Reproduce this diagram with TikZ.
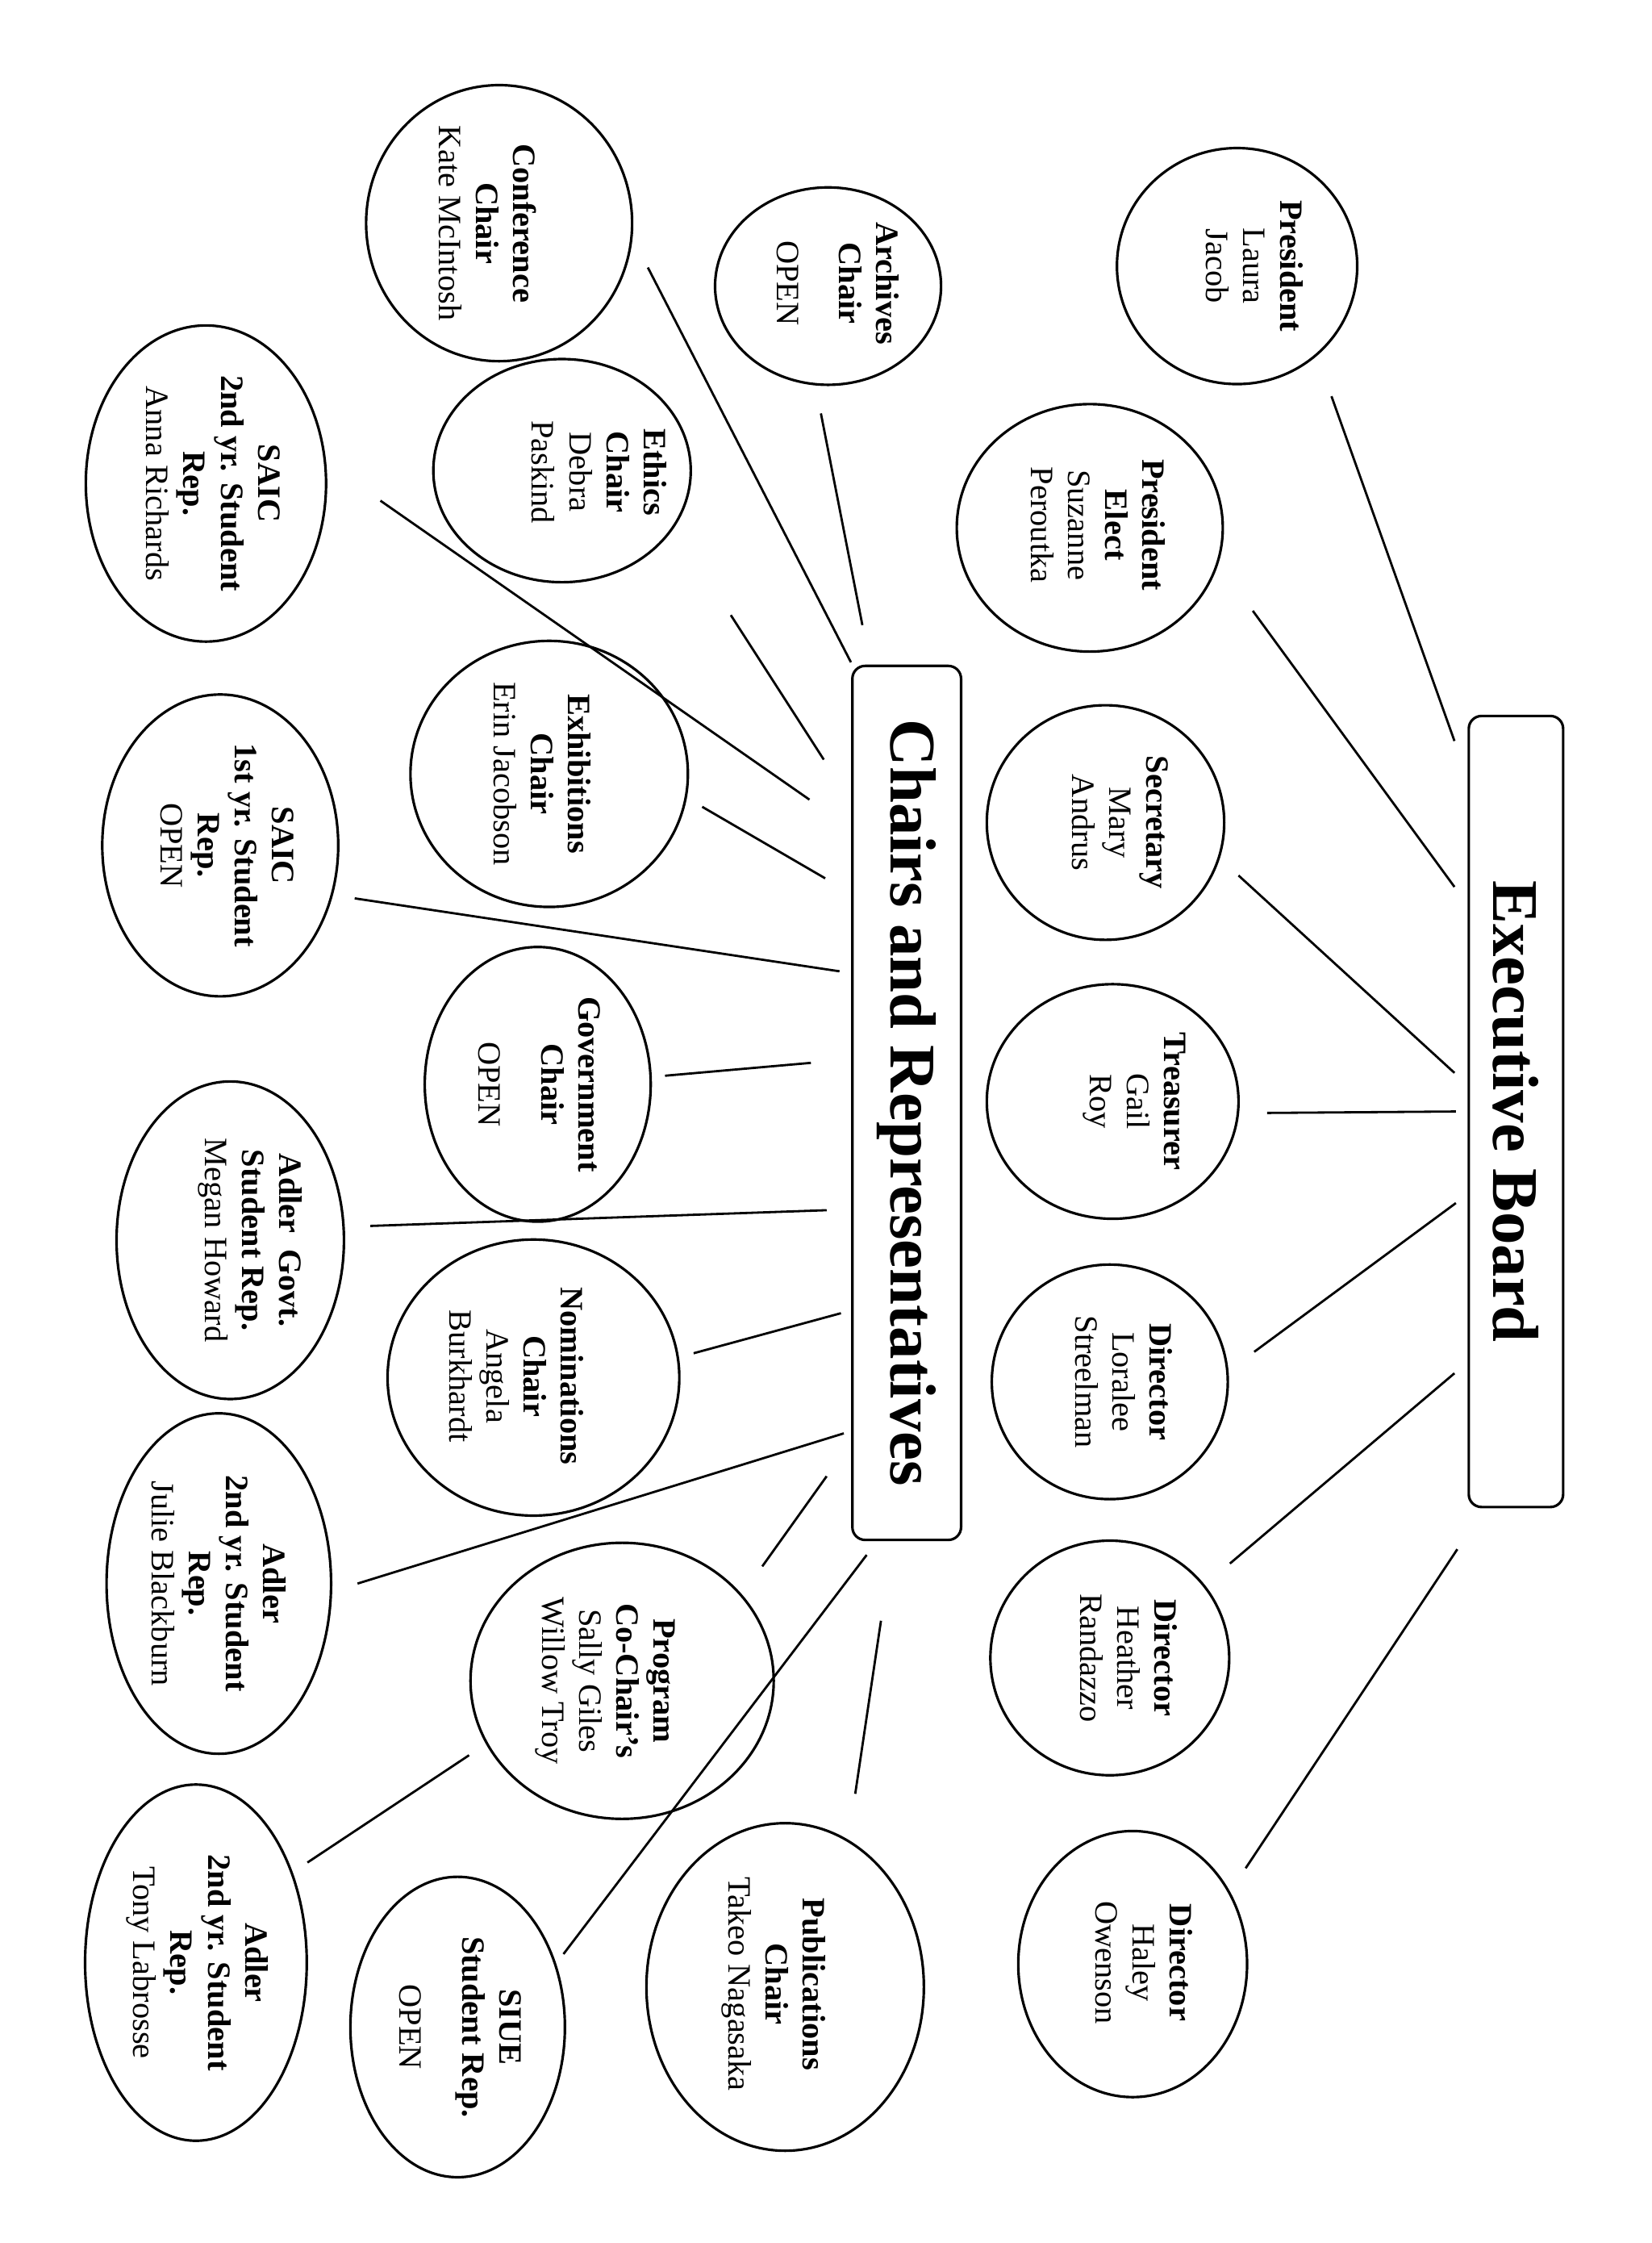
\documentclass[tikz,border=0pt]{standalone}
\usepackage{fontspec}
\setmainfont{Liberation Serif}
\usetikzlibrary{shapes.geometric}
\newcommand{\unitpx}{0.01773cm}

\begin{document}
\begin{tikzpicture}[
  x=\unitpx, y=-\unitpx,
  orb/.style 2 args={ellipse, draw, line width=0.9pt, inner sep=0pt,
    minimum width=#1*\unitpx, minimum height=#2*\unitpx},
  who/.style={rotate=-90, align=center, inner sep=0pt,
    font=\fontsize{11.5}{13.1}\selectfont},
  board/.style 2 args={draw, line width=0.9pt, rounded corners=4.5pt, rotate=-90,
    inner sep=0pt, minimum width=#2*\unitpx, minimum height=#1*\unitpx,
    font=\fontsize{23}{26}\selectfont\bfseries},
  link/.style={draw, line width=0.8pt}
]
\fill[white] (0,0) rectangle (1155,1568);

% executive board
\node[board={66}{553}]  (exec)   at (1060,777) {Executive Board};
\node[orb={168}{165}]   (pres)   at (865,186)  {};
\node[who]              (pres-t) at (877,186)  {\textbf{President}\\Laura\\Jacob};
\node[orb={186}{173}]   (elect)  at (762,369)  {};
\node[who]              (elect-t) at (768,367) {\textbf{President}\\\textbf{Elect}\\Suzanne\\Peroutka};
\node[orb={166}{164}]   (secr)   at (773,575)  {};
\node[who]              (secr-t) at (783,575)  {\textbf{Secretary}\\Mary\\Andrus};
\node[orb={176}{164}]   (treas)  at (778,770)  {};
\node[who]              (treas-t) at (793,770) {\textbf{Treasurer}\\Gail\\Roy};
\node[orb={165}{164}]   (dirA)   at (776,966)  {};
\node[who]              (dirA-t) at (786,966)  {\textbf{Director}\\Loralee\\Streelman};
\node[orb={167}{164}]   (dirB)   at (776,1159) {};
\node[who]              (dirB-t) at (789,1159) {\textbf{Director}\\Heather\\Randazzo};
\node[orb={160}{186}]   (dirC)   at (792,1373) {};
\node[who]              (dirC-t) at (800,1372) {\textbf{Director}\\Haley\\Owenson};

% chairs and representatives
\node[board={76}{611}]  (chairs) at (634,771)  {Chairs and Representatives};
\node[orb={186}{193}]   (conf)   at (349,156)  {};
\node[who]              (conf-t) at (341,156)  {\textbf{Conference}\\\textbf{Chair}\\Kate McIntosh};
\node[orb={158}{138}]   (arch)   at (579,200)  {};
\node[who]              (arch-t) at (586,198)  {\textbf{Archives}\\\textbf{Chair}\\[9pt]OPEN};
\node[orb={180}{156}]   (ethics) at (393,329)  {};
\node[who]              (ethics-t) at (419,330) {\textbf{Ethics}\\\textbf{Chair}\\Debra\\Paskind};
\node[orb={168}{221}]   (saicB)  at (144,338)  {};
\node[who]              (saicB-t) at (149,338) {\textbf{SAIC}\\\textbf{2nd yr. Student}\\\textbf{Rep.}\\Anna Richards};
\node[orb={194}{186}]   (exhib)  at (384,541)  {};
\node[who]              (exhib-t) at (379,541) {\textbf{Exhibitions}\\\textbf{Chair}\\Erin Jacobson};
\node[orb={165}{211}]   (saicA)  at (154,591)  {};
\node[who]              (saicA-t) at (159,591) {\textbf{SAIC}\\\textbf{1st yr. Student}\\\textbf{Rep.}\\OPEN};
\node[orb={158}{192}]   (gov)    at (376,758)  {};
\node[who]              (gov-t)  at (377,758)  {\textbf{Government}\\\textbf{Chair}\\[9pt]OPEN};
\node[orb={159}{222}]   (adlgov) at (161,867)  {};
\node[who]              (adlgov-t) at (175,867) {\textbf{Adler~ Govt.}\\\textbf{Student Rep.}\\Megan Howard};
\node[orb={204}{193}]   (nomin)  at (373,963)  {};
\node[who]              (nomin-t) at (361,962) {\textbf{Nominations}\\\textbf{Chair}\\Angela\\Burkhardt};
\node[orb={157}{238}]   (adlB)   at (153,1107) {};
\node[who]              (adlB-t) at (153,1107) {\textbf{Adler}\\\textbf{2nd yr. Student}\\\textbf{Rep.}\\Julie Blackburn};
\node[orb={212}{193}]   (prog)   at (435,1175) {};
\node[who]              (prog-t) at (423,1175) {\textbf{Program}\\\textbf{Co-Chair’s}\\Sally Giles\\Willow Troy};
\node[orb={194}{229}]   (pub)    at (549,1389) {};
\node[who]              (pub-t)  at (541,1387) {\textbf{Publications}\\\textbf{Chair}\\Takeo Nagasaka};
\node[orb={150}{210}]   (siue)   at (320,1417) {};
\node[who]              (siue-t) at (322,1417) {\textbf{SIUE}\\\textbf{Student Rep.}\\[9pt]OPEN};
\node[orb={155}{249}]   (adlC)   at (137,1372) {};
\node[who]              (adlC-t) at (138,1372) {\textbf{Adler}\\\textbf{2nd yr. Student}\\\textbf{Rep.}\\Tony Labrosse};

% connectors, free at both ends
\foreach \n/\ax/\ay/\bx/\by in {
  pres/931/277/1017/518, elect/876/427/1017/620, secr/866/612/1017/750,
  treas/886/778/1018/777, dirA/877/945/1018/841, dirB/860/1093/1017/960,
  dirC/871/1306/1019/1083,
  conf/453/187/595/463, arch/574/289/603/437, ethics/511/430/576/531,
  saicB/266/350/566/559, exhib/491/564/577/614, saicA/248/628/587/679,
  gov/465/752/567/743, adlgov/259/857/578/846, nomin/485/946/588/918,
  adlB/250/1107/590/1002, prog/533/1095/578/1032, pub/598/1254/616/1133,
  siue/394/1366/606/1087, adlC/215/1302/328/1227}{
  \coordinate (\n-o) at (\ax,\ay);
  \coordinate (\n-i) at (\bx,\by);
  \draw[link] (\n-o) -- (\n-i);
}
\end{tikzpicture}
\end{document}
